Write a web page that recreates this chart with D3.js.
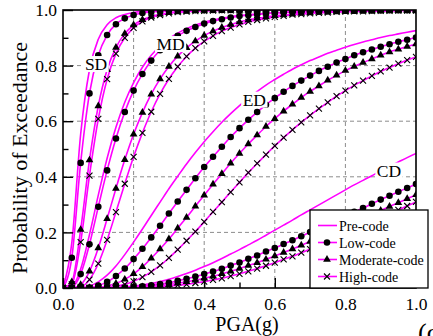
<!DOCTYPE html>
<html>
<head>
<meta charset="utf-8">
<script src="https://cdn.jsdelivr.net/npm/d3@7"></script>
<style>
  html, body { margin: 0; padding: 0; background: #fff; }
  svg { display: block; }
  svg text { font-family: "Liberation Serif", "Times New Roman", serif; }
</style>
</head>
<body>
<svg id="chart" width="433" height="336"></svg>
<script>
// Peak ground acceleration grid (g)
const pga = [0, 0.025, 0.05, 0.075, 0.1, 0.125, 0.15, 0.175, 0.2, 0.225,
  0.25, 0.275, 0.3, 0.325, 0.35, 0.375, 0.4, 0.425, 0.45, 0.475,
  0.5, 0.525, 0.55, 0.575, 0.6, 0.625, 0.65, 0.675, 0.7, 0.725,
  0.75, 0.775, 0.8, 0.825, 0.85, 0.875, 0.9, 0.925, 0.95, 0.975, 1.0];

const damageStates = ["SD", "MD", "ED", "CD"];
const codeLevels = ["Pre-code", "Low-code", "Moderate-code", "High-code"];

// Probability of exceedance, slight damage
const sdPre  = [0, .163,.553,.785,.895,.947,.972,.984,.991,.995,.997, .998,.999,.999,1,1,1,1,1,1,1, 1,1,1,1,1,1,1,1,1,1, 1,1,1,1,1,1,1,1,1,1];
const sdLow  = [0, .109,.450,.700,.837,.910,.949,.970,.982,.989,.993, .995,.997,.998,.999,.999,.999,1,1,1,1, 1,1,1,1,1,1,1,1,1,1, 1,1,1,1,1,1,1,1,1,1];
const sdMod  = [0, .022,.210,.460,.655,.785,.865,.915,.946,.965,.977, .985,.990,.993,.995,.997,.998,.998,.999,.999,.999, 1,1,1,1,1,1,1,1,1,1, 1,1,1,1,1,1,1,1,1,1];
const sdHigh = [0, .013,.165,.404,.608,.751,.843,.900,.936,.959,.973, .982,.988,.992,.994,.996,.997,.998,.999,.999,.999, 1,1,1,1,1,1,1,1,1,1, 1,1,1,1,1,1,1,1,1,1];

// Moderate damage
const mdPre  = [0, .005,.068,.192,.334,.467,.578,.668,.739,.794,.837, .870,.897,.917,.933,.946,.956,.964,.970,.976,.980, .983,.986,.988,.990,.992,.993,.994,.995,.996,.996, .997,.997,.998,.998,.998,.998,.999,.999,.999,.999];
const mdLow  = [0, .003,.050,.157,.292,.423,.538,.633,.710,.770,.818, .855,.884,.907,.925,.939,.951,.960,.967,.973,.978, .981,.984,.987,.989,.991,.992,.993,.994,.995,.996, .997,.997,.997,.998,.998,.998,.999,.999,.999,.999];
const mdMod  = [0, 0,.012,.060,.144,.249,.358,.461,.553,.631,.697, .752,.797,.834,.864,.888,.908,.924,.937,.948,.957, .964,.970,.975,.979,.982,.985,.987,.989,.991,.992, .993,.994,.995,.996,.996,.997,.997,.998,.998,.998];
const mdHigh = [0, 0,.004,.030,.088,.173,.273,.375,.472,.558,.634, .698,.752,.796,.833,.863,.887,.907,.924,.937,.948, .957,.964,.970,.975,.979,.983,.985,.988,.990,.991, .993,.994,.995,.995,.996,.997,.997,.998,.998,.998];

// Extensive damage
const edPre  = [0, 0,.001,.007,.022,.046,.079,.120,.165,.212,.261, .309,.357,.402,.446,.487,.526,.562,.596,.627,.656, .683,.707,.730,.750,.769,.787,.803,.818,.831,.844, .855,.866,.876,.885,.893,.901,.908,.914,.920,.926];
const edLow  = [0, 0,0,.002,.009,.022,.043,.070,.104,.141,.182, .224,.268,.311,.353,.395,.435,.472,.508,.543,.575, .605,.633,.659,.683,.706,.727,.746,.764,.781,.796, .811,.824,.837,.848,.858,.868,.877,.886,.893,.901];
const edMod  = [0, 0,0,0,.002,.007,.016,.031,.051,.076,.107, .140,.176,.215,.254,.294,.334,.373,.411,.449,.484, .518,.550,.581,.609,.636,.661,.685,.707,.727,.747, .765,.782,.797,.811,.824,.837,.849,.859,.869,.878];
const edHigh = [0, 0,0,0,.001,.002,.006,.013,.024,.039,.058, .081,.108,.138,.170,.203,.238,.274,.309,.345,.380, .415,.448,.480,.511,.541,.569,.596,.621,.645,.668, .690,.710,.729,.746,.763,.779,.793,.807,.820,.831];

// Complete damage
const cdPre  = [0, 0,0,0,0,.001,.002,.004,.007,.011,.016, .023,.031,.041,.052,.064,.077,.091,.106,.122,.138, .155,.172,.190,.208,.226,.244,.263,.281,.299,.317, .335,.353,.371,.387,.404,.421,.437,.453,.469,.484];
const cdLow  = [0, 0,0,0,0,0,.001,.002,.004,.006,.010, .014,.019,.026,.033,.041,.050,.059,.069,.081,.092, .105,.117,.131,.144,.158,.172,.186,.201,.215,.230, .245,.259,.274,.288,.303,.318,.332,.346,.360,.374];
const cdMod  = [0, 0,0,0,0,0,0,.001,.002,.004,.006, .009,.012,.017,.022,.028,.035,.042,.051,.060,.070, .081,.091,.103,.115,.128,.140,.154,.167,.180,.194, .208,.222,.237,.251,.265,.279,.293,.307,.321,.335];
const cdHigh = [0, 0,0,0,0,0,0,0,.001,.002,.003, .004,.007,.010,.013,.018,.023,.029,.035,.043,.051, .060,.070,.080,.091,.103,.114,.127,.140,.153,.166, .180,.194,.209,.222,.237,.252,.266,.281,.295,.310];

// Axis ticks
const majorTicks = [0, 0.2, 0.4, 0.6, 0.8, 1.0];
const minorTicks = [0.1, 0.3, 0.5, 0.7, 0.9];
const gridTicks = [0.2, 0.4, 0.6, 0.8];

const curveTable = [
  { state: "SD", code: 0, values: sdPre },  { state: "SD", code: 1, values: sdLow },
  { state: "SD", code: 2, values: sdMod },  { state: "SD", code: 3, values: sdHigh },
  { state: "MD", code: 0, values: mdPre },  { state: "MD", code: 1, values: mdLow },
  { state: "MD", code: 2, values: mdMod },  { state: "MD", code: 3, values: mdHigh },
  { state: "ED", code: 0, values: edPre },  { state: "ED", code: 1, values: edLow },
  { state: "ED", code: 2, values: edMod },  { state: "ED", code: 3, values: edHigh },
  { state: "CD", code: 0, values: cdPre },  { state: "CD", code: 1, values: cdLow },
  { state: "CD", code: 2, values: cdMod },  { state: "CD", code: 3, values: cdHigh }
];

// ---------- layout ----------
const svg = d3.select("#chart");
const pLeft = 63, pRight = 416, pTop = 10, pBottom = 288;
const x = d3.scaleLinear().domain([0, 1]).range([pLeft, pRight]);
const y = d3.scaleLinear().domain([0, 1]).range([pBottom, pTop]);
const MAGENTA = "#ff00ff";
const fmt = d3.format(".1f");

svg.append("defs").append("clipPath").attr("id", "plotClip")
  .append("rect").attr("x", pLeft).attr("y", pTop)
  .attr("width", pRight - pLeft).attr("height", pBottom - pTop);

// dashed grid
const grid = svg.append("g").attr("stroke", "#8c8c8c").attr("stroke-width", 1)
  .attr("stroke-dasharray", "4,3").attr("fill", "none");
grid.selectAll("line.gx").data(gridTicks).join("line").attr("class", "gx")
  .attr("x1", d => x(d)).attr("x2", d => x(d)).attr("y1", pTop).attr("y2", pBottom);
grid.selectAll("line.gy").data(gridTicks).join("line").attr("class", "gy")
  .attr("y1", d => y(d)).attr("y2", d => y(d)).attr("x1", pLeft).attr("x2", pRight);

// fragility curves
const plot = svg.append("g").attr("clip-path", "url(#plotClip)");
const line = d3.line()
  .x((d, i) => x(pga[i]))
  .y(d => y(d))
  .curve(d3.curveMonotoneX);

plot.selectAll("path.curve").data(curveTable).join("path")
  .attr("class", "curve")
  .attr("d", d => line(d.values))
  .attr("fill", "none")
  .attr("stroke", MAGENTA)
  .attr("stroke-width", 1.6);

// markers
const circleSym = d3.symbol(d3.symbolCircle, 34)();
const triSym = d3.symbol(d3.symbolTriangle, 26)();
const crossSym = "M-3,-3L3,3M-3,3L3,-3";

function markerPath(code) {
  return code === 1 ? circleSym : code === 2 ? triSym : crossSym;
}
function styleMarker(sel, code) {
  if (code === 3) sel.attr("fill", "none").attr("stroke", "#000").attr("stroke-width", 1.1);
  else sel.attr("fill", "#000").attr("stroke", "none");
}

curveTable.filter(c => c.code > 0).forEach(c => {
  const g = plot.append("g");
  const m = g.selectAll("path").data(c.values).join("path")
    .attr("d", markerPath(c.code))
    .attr("transform", (d, i) => `translate(${x(pga[i])},${y(d)})`);
  styleMarker(m, c.code);
});

// damage state labels with white backing
const stateLabelAnchor = { SD: [0.062, 0.784], MD: [0.265, 0.856], ED: [0.509, 0.656], CD: [0.889, 0.401] };
damageStates.forEach(s => {
  const g = svg.append("g");
  const t = g.append("text")
    .attr("x", x(stateLabelAnchor[s][0]))
    .attr("y", y(stateLabelAnchor[s][1]))
    .attr("font-size", 17.5).attr("fill", "#000").text(s);
  const b = t.node().getBBox();
  g.insert("rect", "text")
    .attr("x", b.x - 1.5).attr("y", b.y + 2).attr("width", b.width + 3).attr("height", b.height - 4)
    .attr("fill", "#fff");
});

// axes
const axisG = svg.append("g");
const xMajor = d3.axisBottom(x).tickValues(majorTicks).tickSize(-10).tickPadding(10).tickFormat(fmt);
const xMinor = d3.axisBottom(x).tickValues(minorTicks).tickSize(-5.5).tickFormat("");
const yMajor = d3.axisLeft(y).tickValues(majorTicks).tickSize(-10).tickPadding(6).tickFormat(fmt);
const yMinor = d3.axisLeft(y).tickValues(minorTicks).tickSize(-5.5).tickFormat("");

[[xMajor, "x"], [xMinor, "x"], [yMajor, "y"], [yMinor, "y"]].forEach(([ax, dir]) => {
  const g = axisG.append("g")
    .attr("transform", dir === "x" ? `translate(0,${pBottom})` : `translate(${pLeft},0)`)
    .call(ax)
    .attr("font-family", null)
    .attr("font-size", null);
  g.select(".domain").remove();
  g.selectAll(".tick line").attr("stroke", "#000").attr("stroke-width", 1.4);
  g.selectAll(".tick text").attr("font-size", 17.5).attr("fill", "#000");
});

// frame
svg.append("rect").attr("x", pLeft).attr("y", pTop)
  .attr("width", pRight - pLeft).attr("height", pBottom - pTop)
  .attr("fill", "none").attr("stroke", "#000").attr("stroke-width", 1.6);

// axis titles
svg.append("text").attr("x", 247).attr("y", 331)
  .attr("text-anchor", "middle").attr("font-size", 20).attr("fill", "#000")
  .text("PGA(g)");
svg.append("text")
  .attr("transform", "translate(27,158) rotate(-90)")
  .attr("text-anchor", "middle").attr("font-size", 22).attr("fill", "#000")
  .text("Probability of Exceedance");

// legend
const lg = svg.append("g");
lg.append("rect").attr("x", 310).attr("y", 210).attr("width", 118).attr("height", 78)
  .attr("fill", "#fff").attr("stroke", "#000").attr("stroke-width", 1.3);
codeLevels.forEach((name, i) => {
  const cy = 225.5 + i * 17;
  lg.append("line").attr("x1", 318).attr("x2", 337).attr("y1", cy).attr("y2", cy)
    .attr("stroke", MAGENTA).attr("stroke-width", 1.6);
  if (i > 0) {
    const m = lg.append("path").attr("d", markerPath(i)).attr("transform", `translate(327,${cy})`);
    styleMarker(m, i);
  }
  lg.append("text").attr("x", 339).attr("y", cy + 5)
    .attr("font-size", 14).attr("fill", "#000").text(name);
});

// panel tag
svg.append("text").attr("x", 418).attr("y", 341).attr("font-size", 26).attr("fill", "#000").text("(c)");
</script>
</body>
</html>
